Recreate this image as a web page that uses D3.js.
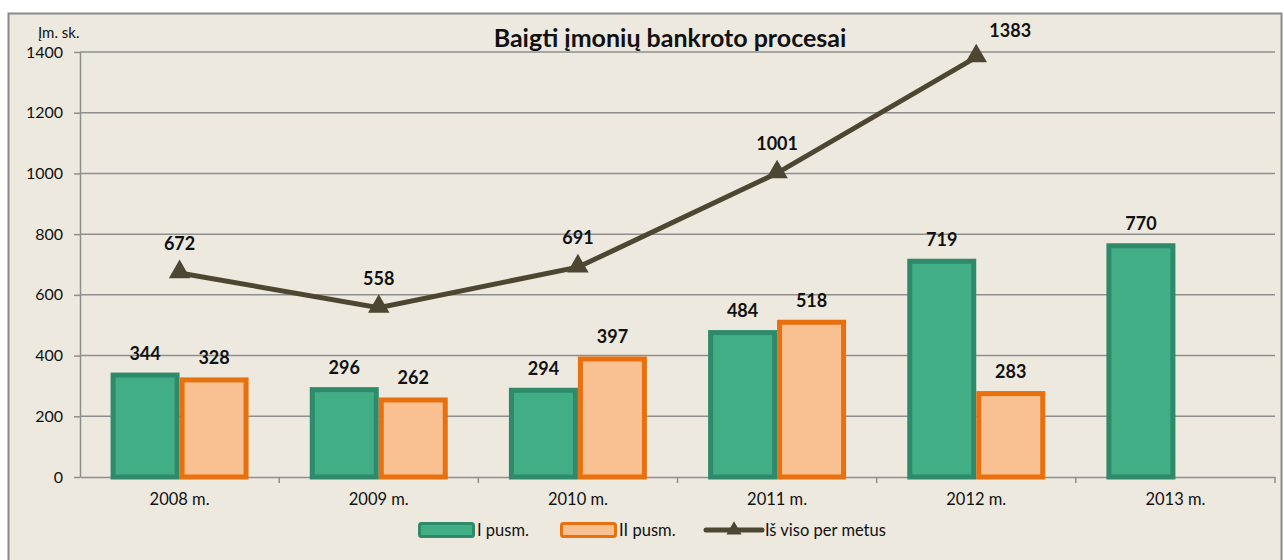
<!DOCTYPE html>
<meta charset="utf-8">
<style>
    body { margin: 0; background: #fff; }
    text { font-family: Lato, "Open Sans", sans-serif; fill: #111; }
    .grid line { stroke: #8e8e8e; stroke-width: 1.5px; }
    .axis path, .axis line { stroke: #8e8e8e; stroke-width: 1.5px; }
    .lbl { font-weight: bold; font-size: 18px; }
</style>
<svg width="1284" height="560"></svg>
<script src="https://cdnjs.cloudflare.com/ajax/libs/d3/7.8.5/d3.min.js"></script>
<script>
    // duomenys
    var years = ['2008 m.', '2009 m.', '2010 m.', '2011 m.', '2012 m.', '2013 m.'];
    var firstHalf = [344, 296, 294, 484, 719, 770];
    var secondHalf = [328, 262, 397, 518, 283, null];
    var total = [672, 558, 691, 1001, 1383, null];
    var yTicks = [0, 200, 400, 600, 800, 1000, 1200, 1400];
    var legendNames = ['I pusm.', 'II pusm.', 'Iš viso per metus'];

    var svgElem = d3.select('svg');
    var margin = { left: 80, top: 52, right: 9, bottom: 83 };
    var width = +svgElem.attr('width') - margin.left - margin.right;
    var height = +svgElem.attr('height') - margin.top - margin.bottom;

    // fonas ir rėmelis
    svgElem.append('rect')
        .attr('x', 8.5).attr('y', 13.5)
        .attr('width', 1273).attr('height', 560)
        .attr('fill', '#ede9df')
        .attr('stroke', '#8a8a8a').attr('stroke-width', 2);

    var g = svgElem.append('g')
        .attr('transform', `translate(${margin.left}, ${margin.top})`);

    var x = d3.scaleBand().domain(years).range([0, width]);
    var y = d3.scaleLinear().domain([0, 1400]).range([height, 0]);
    var bw = 69;
    var gap = (x.bandwidth() - 2 * bw) / 2;

    // tinklelis
    g.append('g').attr('class', 'grid')
        .selectAll('line').data(yTicks.slice(1)).enter().append('line')
        .attr('x1', 0).attr('x2', width)
        .attr('y1', function (d) { return y(d); })
        .attr('y2', function (d) { return y(d); });

    // ašys
    var yAxis = g.append('g').attr('class', 'axis')
        .call(d3.axisLeft(y).tickValues(yTicks).tickFormat(d3.format('d')).tickSize(6).tickSizeOuter(0));
    yAxis.selectAll('text').attr('font-size', 16).attr('x', -17);
    var xAxis = g.append('g').attr('class', 'axis')
        .attr('transform', `translate(0, ${height})`)
        .call(d3.axisBottom(x).tickSize(0).tickSizeOuter(0));
    xAxis.selectAll('text').attr('font-size', 16.5).attr('dy', '1.1em').attr('y', 10);
    // skiriamosios žymos tarp kategorijų
    g.append('g').attr('class', 'axis')
        .selectAll('line').data(d3.range(1, years.length + 1)).enter().append('line')
        .attr('x1', function (i) { return x.step() * i; })
        .attr('x2', function (i) { return x.step() * i; })
        .attr('y1', height).attr('y2', height + 6);

    // stulpeliai
    function bars(vals, offset, fill, stroke) {
        var data = years.map(function (d, i) { return { k: d, v: vals[i] }; })
            .filter(function (d) { return d.v != null; });
        g.append('g').selectAll('rect').data(data).enter().append('rect')
            .attr('x', function (d) { return x(d.k) + gap + offset + 2.5; })
            .attr('y', function (d) { return y(d.v) + 2.5; })
            .attr('width', bw - 5)
            .attr('height', function (d) { return height - y(d.v) - 2.5; })
            .attr('fill', fill).attr('stroke', stroke).attr('stroke-width', 5);
        g.append('g').selectAll('text').data(data).enter().append('text')
            .attr('class', 'lbl').attr('text-anchor', 'middle')
            .attr('x', function (d) { return x(d.k) + gap + offset + bw / 2; })
            .attr('y', function (d) { return y(d.v) - 13; })
            .text(function (d) { return d.v; });
    }
    bars(firstHalf, 0, '#41ae85', '#2e8a6b');
    bars(secondHalf, bw, '#f9c091', '#e8700f');

    // linija
    var lineData = years.map(function (d, i) { return { k: d, v: total[i] }; })
        .filter(function (d) { return d.v != null; });
    var line = d3.line()
        .x(function (d) { return x(d.k) + x.bandwidth() / 2; })
        .y(function (d) { return y(d.v); });
    g.append('path').datum(lineData)
        .attr('d', line).attr('fill', 'none')
        .attr('stroke', '#4d4731').attr('stroke-width', 5);
    var tri = d3.symbol().type(d3.symbolTriangle).size(200);
    g.append('g').selectAll('path').data(lineData).enter().append('path')
        .attr('d', tri)
        .attr('transform', function (d) {
            return `translate(${x(d.k) + x.bandwidth() / 2}, ${y(d.v) - 1})`;
        })
        .attr('fill', '#4d4731');
    g.append('g').selectAll('text').data(lineData).enter().append('text')
        .attr('class', 'lbl').attr('text-anchor', 'middle')
        .attr('x', function (d) { return x(d.k) + x.bandwidth() / 2 + (d.v > 1300 ? 34 : 0); })
        .attr('y', function (d) { return y(d.v) - (d.v > 1300 ? 20 : 23); })
        .text(function (d) { return d.v; });

    // pavadinimai
    svgElem.append('text')
        .attr('x', 670).attr('y', 47)
        .attr('text-anchor', 'middle')
        .attr('font-size', 25).attr('font-weight', 'bold')
        .text('Baigti įmonių bankroto procesai');
    svgElem.append('text')
        .attr('x', 38).attr('y', 38)
        .attr('font-size', 15)
        .text('Įm. sk.');

    // legenda
    var lg = svgElem.append('g').attr('transform', 'translate(0, 530)');
    var legendX = [418, 560, 706];
    lg.append('rect').attr('x', legendX[0] + 1.5).attr('y', -6.5).attr('width', 54).attr('height', 13)
        .attr('rx', 2).attr('fill', '#41ae85').attr('stroke', '#2e8a6b').attr('stroke-width', 3);
    lg.append('rect').attr('x', legendX[1] + 1.5).attr('y', -6.5).attr('width', 54).attr('height', 13)
        .attr('rx', 2).attr('fill', '#f9c091').attr('stroke', '#e8700f').attr('stroke-width', 3);
    lg.append('line').attr('x1', legendX[2]).attr('x2', legendX[2] + 56)
        .attr('y1', 0).attr('y2', 0)
        .attr('stroke', '#4d4731').attr('stroke-width', 5).attr('stroke-linecap', 'round');
    lg.append('path').attr('d', d3.symbol().type(d3.symbolTriangle).size(100))
        .attr('transform', `translate(${legendX[2] + 28}, 0)`).attr('fill', '#4d4731');
    lg.selectAll('text.leg').data(legendNames).enter().append('text')
        .attr('class', 'leg')
        .attr('x', function (d, i) { return legendX[i] + 59; })
        .attr('y', 6).attr('font-size', 16.5)
        .text(function (d) { return d; });
</script>
